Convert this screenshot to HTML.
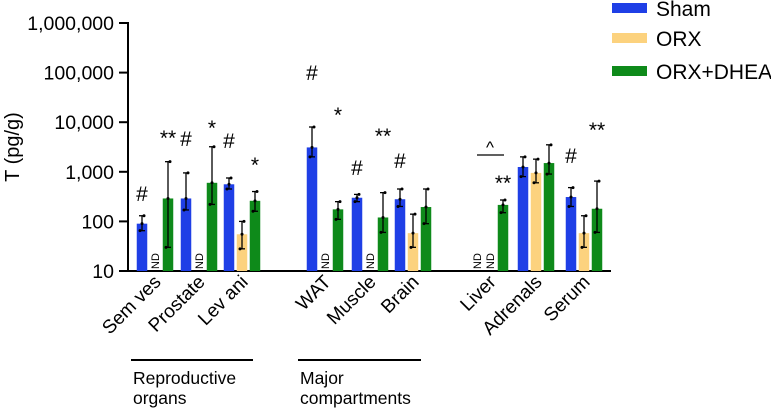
<!DOCTYPE html>
<html><head><meta charset="utf-8"><style>
body{margin:0;background:#fff;}
svg{display:block;font-family:"Liberation Sans",Arial,sans-serif;}
</style></head><body>
<svg id="chart" width="771" height="410"></svg>
<script>
const categories=["Sem ves","Prostate","Lev ani","WAT","Muscle","Brain","Liver","Adrenals","Serum"];
const groupX=[142,186,229,312,357,400,477,523,571];
const shamVals=[90,290,560,3100,300,280,null,1250,310];
const orxVals=[null,null,55,null,null,58,null,950,58];
const dheaVals=[290,600,260,175,120,195,215,1500,180];
const shamErr=[[65,130],[170,950],[450,750],[2000,8000],[250,350],[200,450],null,[800,2000],[200,480]];
const orxErr=[null,null,[28,100],null,null,[30,140],null,[600,1800],[30,130]];
const dheaErr=[[30,1600],[220,3200],[160,400],[110,250],[60,380],[90,450],[150,270],[900,3500],[60,650]];
const shamMarks=["#","#","#","#","#","#","","",'#'];
const dheaMarks=["**","*","*","*","**","","**","","**"];
const shamMarkY=[193,138,140,72,167,160,0,0,155];
const dheaMarkY=[135,125,162,112,133,0,180,0,127];
const yTicks=[10,100,1000,10000,100000,1000000];
const yTickLabels=["10","100","1,000","10,000","100,000","1,000,000"];
const seriesNames=["Sham","ORX","ORX+DHEA"];
const colors=["#1f3fe6","#fcd27e","#0e8a1a"];

const NS="http://www.w3.org/2000/svg";
const svg=document.getElementById("chart");
function y(v){return 271-(Math.log10(v)-1)*49.6;}
function el(t,a,p){const e=document.createElementNS(NS,t);for(const k in a)e.setAttribute(k,a[k]);(p||svg).appendChild(e);return e;}
const BW=10.5, OFF=[0,13,26];

let ax=el("line",{x1:127,y1:271,x2:611,y2:271,stroke:"#000","stroke-width":2});


let ay=el("line",{x1:128,y1:22,x2:128,y2:272,stroke:"#000","stroke-width":2});


yTicks.forEach((v,i)=>{
  const t=el("line",{x1:119,x2:128,y1:y(v),y2:y(v),stroke:"#000","stroke-width":2});
  
  
  const l=el("text",{x:114,y:y(v)+7,"text-anchor":"end","font-size":19.5});
  
  
  l.textContent=yTickLabels[i];
});
const yt=el("text",{x:0,y:0,"font-size":20,"text-anchor":"middle",transform:"translate(19,147) rotate(-90)"});


yt.textContent="T (pg/g)";

function bar(v,err,x,c){
  if(v==null){
    const nd=el("text",{x:0,y:0,"font-size":11,transform:`translate(${x+4},269) rotate(-90)`});
    
    
    nd.textContent="ND";return;
  }
  const r=el("rect",{x:x-BW/2,y:y(v),width:BW,height:271-y(v),fill:c});
  
  
  if(err){
    const g=el("g",{stroke:"#000","stroke-width":1.3});
    
    
    el("line",{x1:x,x2:x,y1:y(err[1]),y2:y(err[0])},g);
    el("line",{x1:x-3,x2:x+3,y1:y(err[1]),y2:y(err[1])},g);
    el("line",{x1:x-3,x2:x+3,y1:y(err[0]),y2:y(err[0])},g);
    [err[0],v,err[1]].forEach((d,k)=>{el("circle",{cx:x+(k-1)*2,cy:y(d),r:1.5,fill:"#000",stroke:"none"},g);});
  }
}
categories.forEach((c,i)=>{
  const gx=groupX[i];
  bar(shamVals[i],shamErr[i],gx+OFF[0],colors[0]);
  bar(orxVals[i],orxErr[i],gx+OFF[1],colors[1]);
  bar(dheaVals[i],dheaErr[i],gx+OFF[2],colors[2]);
  if(shamMarks[i]){const t=el("text",{x:gx,y:shamMarkY[i]+8,"text-anchor":"middle","font-size":21});
    
    
    t.textContent=shamMarks[i];}
  if(dheaMarks[i]){const t=el("text",{x:gx+26,y:dheaMarkY[i]+10,"text-anchor":"middle","font-size":21});
    
    
    t.textContent=dheaMarks[i];}
  const lab=el("text",{x:0,y:0,"text-anchor":"end","font-size":19,transform:`translate(${gx+20},283) rotate(-45)`});
  
  
  lab.textContent=c;
});
const cl=el("line",{x1:477,x2:504,y1:155,y2:155,stroke:"#000","stroke-width":1.3});


const ct=el("text",{x:490,y:153,"text-anchor":"middle","font-size":17});


ct.textContent="^";
[[131,253,"Reproductive","organs"],[298,421,"Major","compartments"]].forEach(b=>{
  const l=el("line",{x1:b[0],x2:b[1],y1:360,y2:360,stroke:"#000","stroke-width":2});
  
  
  const t1=el("text",{x:b[0]+2,y:384,"font-size":17.5});
  
  
  t1.textContent=b[2];
  const t2=el("text",{x:b[0]+2,y:404,"font-size":17.5});
  
  
  t2.textContent=b[3];
});
seriesNames.forEach((n,i)=>{
  const ly=[8,38,71][i];
  const r=el("rect",{x:612,y:ly-5,width:35,height:10,fill:colors[i]});
  
  
  const t=el("text",{x:656,y:ly+8,"font-size":21});
  
  
  t.textContent=n;
});
</script>
</body></html>
